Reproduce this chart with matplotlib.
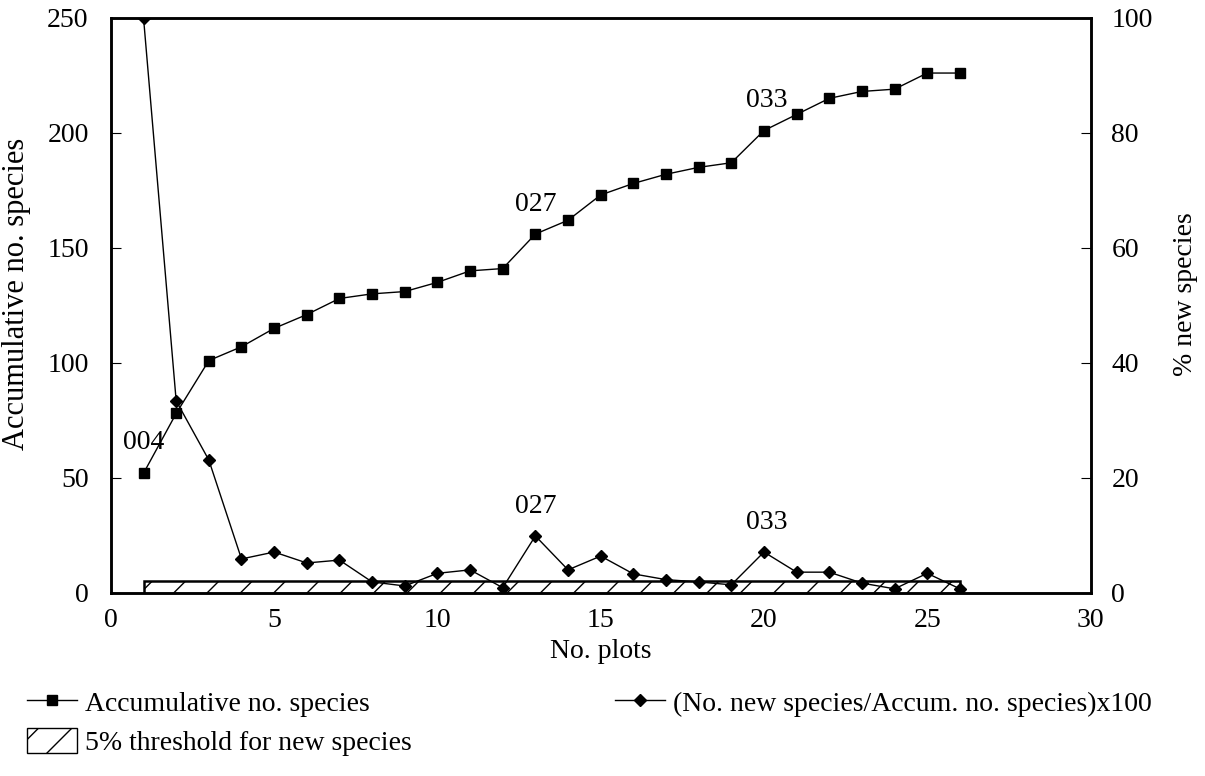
import numpy as np
import matplotlib
matplotlib.use('Agg')
import matplotlib.pyplot as plt
from matplotlib.lines import Line2D
from matplotlib.patches import Patch

plt.rcParams['font.family'] = ['Liberation Serif', 'DejaVu Serif']
plt.rcParams['hatch.linewidth'] = 1.0

# data
plots = list(range(1, 27))
accum_species = [52, 78, 101, 107, 115, 121, 128, 130, 131, 135, 140, 141, 156,
                 162, 173, 178, 182, 185, 187, 201, 208, 215, 218, 219, 226, 226]
pct_new = [100, 33.4, 23.1, 5.9, 7.1, 5.2, 5.7, 1.9, 1.2, 3.4, 4.0, 0.9, 9.9,
           4.0, 6.4, 3.3, 2.3, 1.9, 1.4, 7.1, 3.6, 3.6, 1.7, 0.7, 3.4, 0.7]
threshold_start, threshold_end, threshold_height = 1, 26, 2.1

fs = 20

fig = plt.figure(figsize=(12.05, 7.76), dpi=100)
ax = fig.add_axes([0.092, 0.236, 0.813, 0.741])
ax2 = ax.twinx()

ax.plot(plots, accum_species, 'k-', marker='s', markersize=7.5, linewidth=1)
ax2.plot(plots, pct_new, 'k-', marker='D', markersize=6.5, linewidth=1)
ax2.bar(threshold_start, threshold_height, width=threshold_end - threshold_start,
        align='edge', facecolor='white', edgecolor='black', hatch='/', linewidth=1.8,
        zorder=1)

ax.set_xlim(0, 30)
ax.set_ylim(0, 250)
ax2.set_ylim(0, 100)
ax.set_xticks([0, 5, 10, 15, 20, 25, 30])
ax.set_yticks([0, 50, 100, 150, 200, 250])
ax2.set_yticks([0, 20, 40, 60, 80, 100])

ax.tick_params(axis='x', length=0, labelsize=fs, pad=11)
ax.tick_params(axis='y', direction='in', length=7, labelsize=fs, pad=16)
ax2.tick_params(axis='y', direction='in', length=7, labelsize=fs, pad=15)
for a in (ax, ax2):
    for s in a.spines.values():
        s.set_linewidth(1.8)

ax.set_xlabel('No. plots', fontsize=fs)
ax.set_ylabel('Accumulative no. species', fontsize=22)
ax2.set_ylabel('% new species', fontsize=fs)
ax.xaxis.set_label_coords(0.5, -0.08)
ax.yaxis.set_label_coords(-0.082, 0.52)
ax2.yaxis.set_label_coords(1.084, 0.52)

# plot labels
ax.text(1.0, 65.5, '004', fontsize=fs, ha='center', va='center')
ax.text(13.0, 169, '027', fontsize=fs, ha='center', va='center')
ax.text(20.1, 214, '033', fontsize=fs, ha='center', va='center')
ax2.text(13.0, 15.1, '027', fontsize=fs, ha='center', va='center')
ax2.text(20.1, 12.3, '033', fontsize=fs, ha='center', va='center')

h_accum = Line2D([], [], color='k', marker='s', markersize=7, linewidth=1)
h_thresh = Patch(facecolor='white', edgecolor='black', hatch='/')
h_pct = Line2D([], [], color='k', marker='D', markersize=6, linewidth=1)

leg_kw = dict(frameon=False, fontsize=fs, handlelength=1.8, handletextpad=0.3,
              labelspacing=0.4, borderpad=0, borderaxespad=0, handleheight=1.0,
              loc='upper left')
fig.legend([h_accum, h_thresh], ['Accumulative no. species', '5% threshold for new species'],
           bbox_to_anchor=(0.022, 0.112), **leg_kw)
fig.legend([h_pct], ['(No. new species/Accum. no. species)x100'],
           bbox_to_anchor=(0.510, 0.112), **leg_kw)

fig.savefig('out.png', dpi=100)
